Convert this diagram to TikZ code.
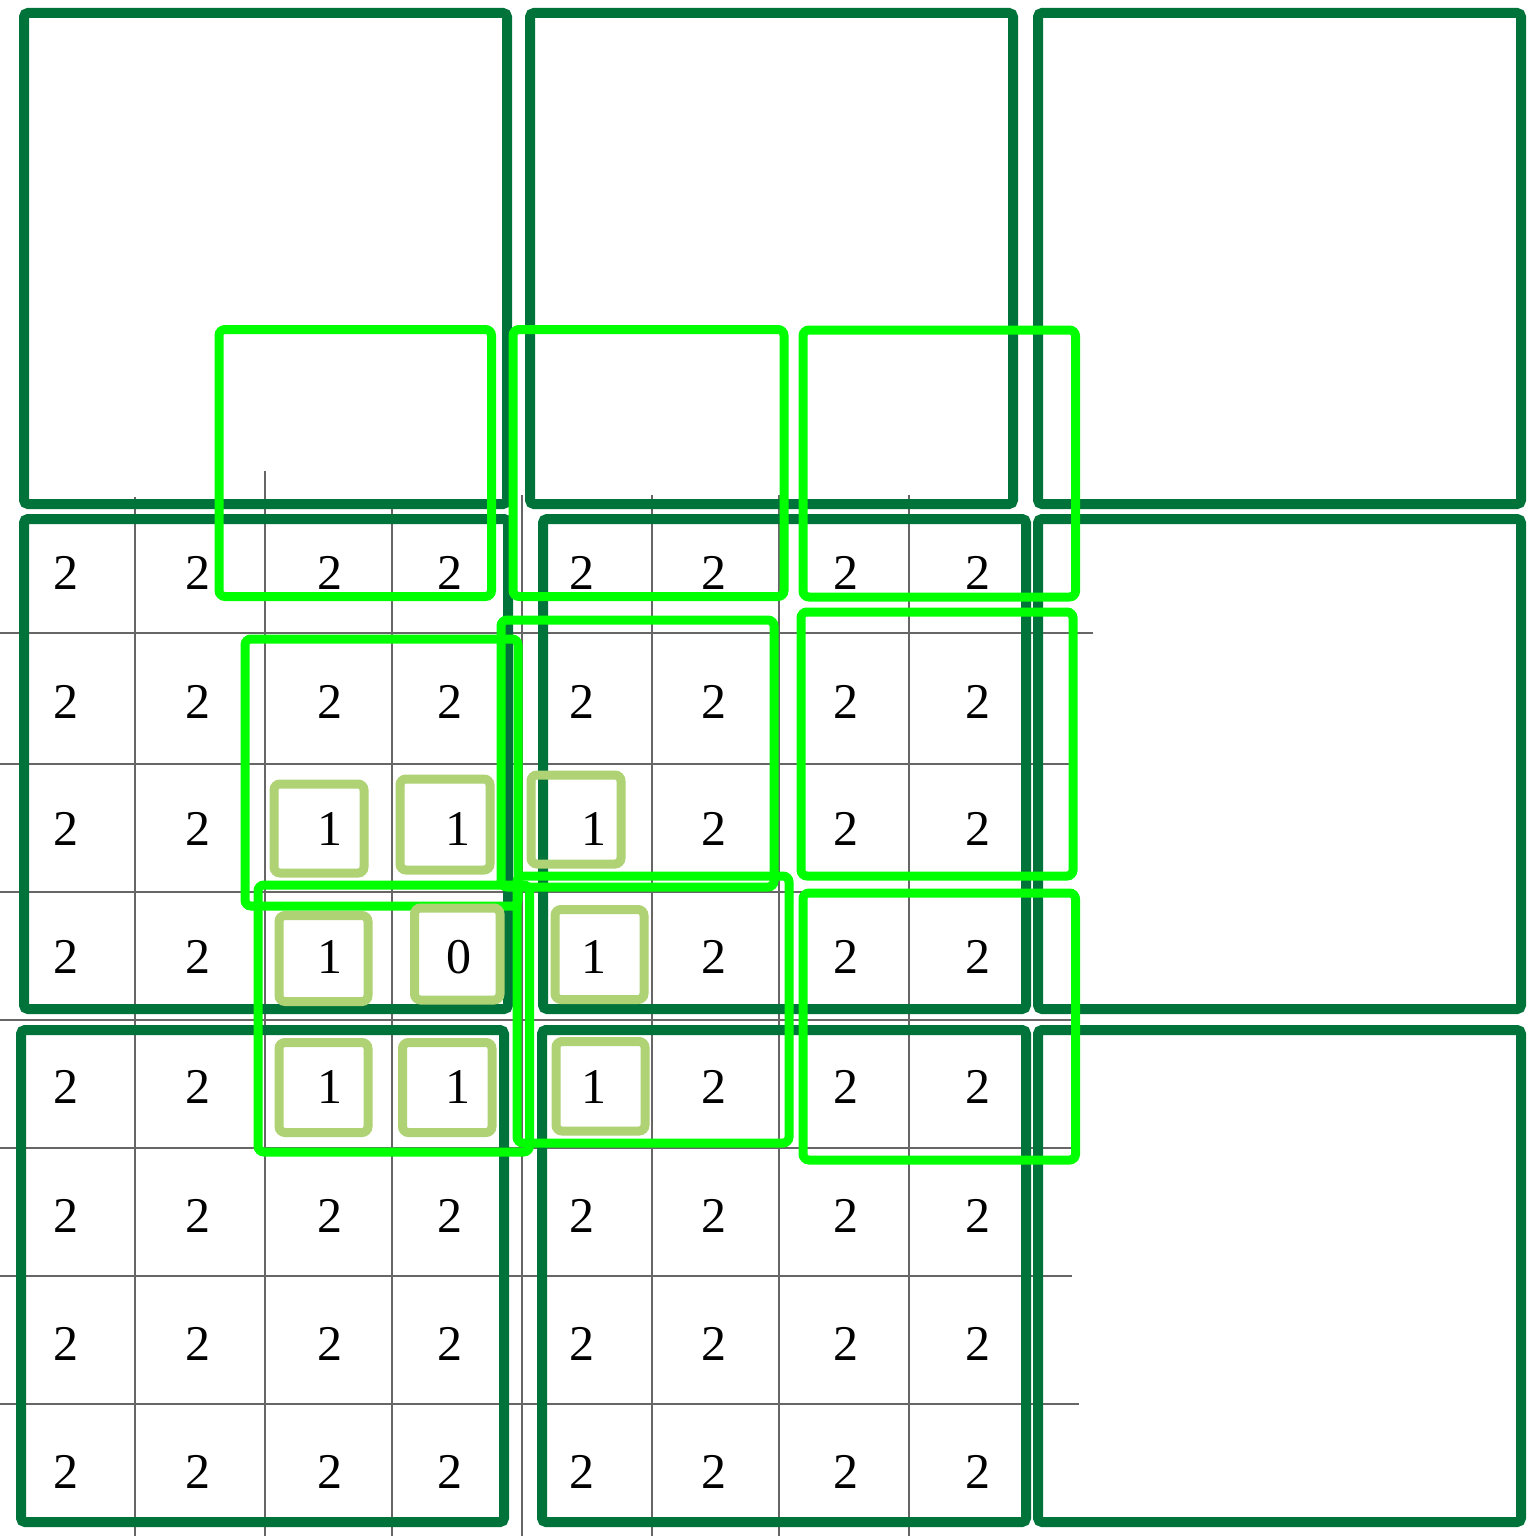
\documentclass[tikz,border=0pt]{standalone}
\usepackage{fontspec}
\setmainfont{Liberation Serif}
\definecolor{dkgreen}{HTML}{00733A}
\definecolor{brgreen}{HTML}{00FF00}
\definecolor{ltgreen}{HTML}{AED274}
\definecolor{gridgray}{HTML}{666666}
\begin{document}
\begin{tikzpicture}[x=1pt,y=-1pt,
  gridline/.style={draw=gridgray,line width=1.1pt},
  darkbox/.style={draw=dkgreen,line width=10pt,rounded corners=4pt},
  brightbox/.style={draw=brgreen,line width=9pt,rounded corners=6pt},
  lightbox/.style={draw=ltgreen,line width=9pt,rounded corners=6pt},
  num/.style={inner sep=0pt,font=\fontsize{50}{54}\selectfont}]
\useasboundingbox (0,0) rectangle (1536,1536);
\fill[white] (0,0) rectangle (1536,1536);
% grid lines
\foreach \x/\t in {135/497,265/471,392/505,522/495,652/495,779/495,909/495}
  \draw[gridline] (\x,\t) -- (\x,1536);
\foreach \y/\e in {633/1093,764/1070,892/1072,1020/1075,1148/1071,1276/1072,1404/1079}
  \draw[gridline] (0,\y) -- (\e,\y);
% dark boxes
\draw[darkbox] (24,13) rectangle (507,504);
\draw[darkbox] (530,13) rectangle (1013,504);
\draw[darkbox] (1038,13) rectangle (1521,504);
\draw[darkbox] (24,519) rectangle (508,1009);
\draw[darkbox] (543,519) rectangle (1026,1009);
\draw[darkbox] (1038,519) rectangle (1521,1009);
\draw[darkbox] (21,1030) rectangle (504,1522);
\draw[darkbox] (542,1030) rectangle (1026,1522);
\draw[darkbox] (1038,1030) rectangle (1521,1522);
% bright boxes
\draw[brightbox] (219,329.5) rectangle (491.5,596.5);
\draw[brightbox] (513,329.5) rectangle (784,596.5);
\draw[brightbox] (803,330) rectangle (1075.5,597);
\draw[brightbox] (245,639) rectangle (518,906);
\draw[brightbox] (501,620) rectangle (774,887);
\draw[brightbox] (801,612) rectangle (1073,876);
\draw[brightbox] (258,885) rectangle (529.5,1152);
\draw[brightbox] (517,876) rectangle (789,1143);
\draw[brightbox] (803,893) rectangle (1075.5,1160);
% light boxes
\draw[lightbox] (274,784) rectangle (364,873);
\draw[lightbox] (400,779) rectangle (490,870);
\draw[lightbox] (531,775) rectangle (621,864);
\draw[lightbox] (279,915.5) rectangle (368,1001.5);
\draw[lightbox] (414.5,908) rectangle (500,1000);
\draw[lightbox] (555,909.5) rectangle (644,999.5);
\draw[lightbox] (279,1042.5) rectangle (368,1132.5);
\draw[lightbox] (402.5,1042.5) rectangle (492,1132.5);
\draw[lightbox] (556,1041.5) rectangle (645,1131);
% numbers: row/y/values/x-positions
\foreach \r/\y/\vals/\xs in {
  1/573/{2,2,2,2,2,2,2,2}/{66,198,330,450,582,714,846,978},
  2/702/{2,2,2,2,2,2,2,2}/{66,198,330,450,582,714,846,978},
  3/829/{2,2,1,1,1,2,2,2}/{66,198,330,458,594,714,846,978},
  4/957/{2,2,1,0,1,2,2,2}/{66,198,330,459,594,714,846,978},
  5/1087/{2,2,1,1,1,2,2,2}/{66,198,330,458,594,714,846,978},
  6/1216/{2,2,2,2,2,2,2,2}/{66,198,330,450,582,714,846,978},
  7/1344/{2,2,2,2,2,2,2,2}/{66,198,330,450,582,714,846,978},
  8/1472/{2,2,2,2,2,2,2,2}/{66,198,330,450,582,714,846,978}}{
  \foreach \v [count=\c] in \vals {
    \pgfmathsetmacro{\xx}{{\xs}[\c-1]}
    \node[num] (n-\r-\c) at (\xx,\y) {\v};
  }
}
\end{tikzpicture}
\end{document}
